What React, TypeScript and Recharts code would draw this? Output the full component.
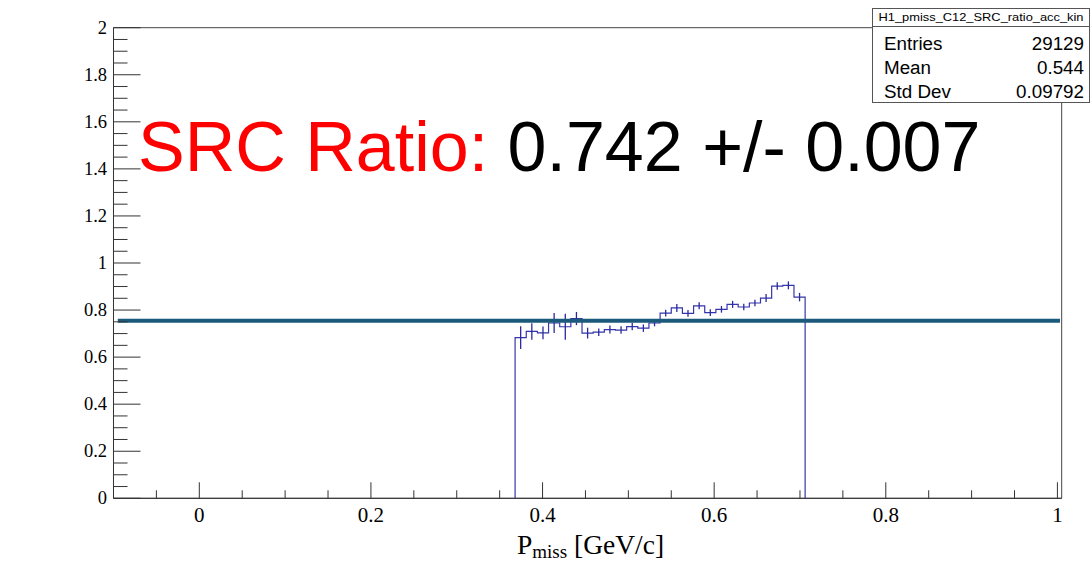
import React from "react";
import {
  ComposedChart,
  Line,
  Scatter,
  ErrorBar,
  XAxis,
  YAxis,
  ReferenceArea,
} from "recharts";

// histogram bins (low edges), last entry is the upper edge of the last bin
const binEdges = [
  0.368, 0.381, 0.394, 0.407, 0.42, 0.433, 0.446, 0.459, 0.472, 0.485, 0.498,
  0.511, 0.524, 0.537, 0.55, 0.563, 0.576, 0.589, 0.602, 0.615, 0.628, 0.641,
  0.654, 0.667, 0.68, 0.693, 0.706,
];
const binValues = [
  0.683, 0.709, 0.703, 0.745, 0.729, 0.764, 0.702, 0.706, 0.717, 0.715, 0.73,
  0.723, 0.745, 0.787, 0.809, 0.786, 0.818, 0.789, 0.803, 0.824, 0.813, 0.83,
  0.851, 0.902, 0.905, 0.855,
];
const binErrors = [
  0.048, 0.035, 0.027, 0.043, 0.055, 0.028, 0.023, 0.016, 0.017, 0.016, 0.016,
  0.016, 0.014, 0.014, 0.017, 0.014, 0.015, 0.014, 0.014, 0.015, 0.014, 0.014,
  0.017, 0.016, 0.017, 0.018,
];

const fitValue = 0.755;
const fitRange = [-0.095, 1.003];

const xMajor = [0, 0.2, 0.4, 0.6, 0.8, 1];
const yMajor = [0, 0.2, 0.4, 0.6, 0.8, 1, 1.2, 1.4, 1.6, 1.8, 2];

const statsTitle = "H1_pmiss_C12_SRC_ratio_acc_kin";
const statsRows = [
  ["Entries", "29129"],
  ["Mean", "0.544"],
  ["Std Dev", "0.09792"],
];

// minor ticks every 0.05
const xTicks: number[] = [];
for (let i = -1; i <= 20; i++) xTicks.push(+(i * 0.05).toFixed(2));
const yTicks: number[] = [];
for (let i = 0; i <= 40; i++) yTicks.push(+(i * 0.05).toFixed(2));

const isMajor = (v: number, list: number[]) =>
  list.some((m) => Math.abs(m - v) < 1e-6);

// step line data for the histogram outline
const stepData = [
  { x: binEdges[0], y: 0 },
  ...binValues.map((v, i) => ({ x: binEdges[i], y: v })),
  { x: binEdges[binEdges.length - 1], y: binValues[binValues.length - 1] },
  { x: binEdges[binEdges.length - 1], y: 0 },
];

const errData = binValues.map((v, i) => ({
  x: (binEdges[i] + binEdges[i + 1]) / 2,
  y: v,
  err: binErrors[i],
}));

const fitData = fitRange.map((x) => ({ x, y: fitValue }));

const serif = "'Liberation Serif', 'DejaVu Serif', serif";
const sans = "'Liberation Sans', Arial, sans-serif";

const YTick = (props: any) => {
  const { x, y, payload } = props;
  const major = isMajor(payload.value, yMajor);
  return (
    <g>
      <line
        x1={x}
        x2={x + (major ? 27 : 14)}
        y1={y}
        y2={y}
        stroke="#333"
        strokeWidth={1}
      />
      {major && (
        <text
          x={x - 6.5}
          y={y + 6}
          textAnchor="end"
          fontFamily={serif}
          fontSize={18.5}
          fill="#000"
        >
          {String(payload.value)}
        </text>
      )}
    </g>
  );
};

const XTick = (props: any) => {
  const { x, y, payload } = props;
  const major = isMajor(payload.value, xMajor);
  return (
    <g>
      <line
        x1={x}
        x2={x}
        y1={y}
        y2={y - (major ? 16 : 8)}
        stroke="#333"
        strokeWidth={1}
      />
      {major && (
        <text
          x={x}
          y={y + 23.4}
          textAnchor="middle"
          fontFamily={serif}
          fontSize={21}
          fill="#000"
        >
          {String(payload.value)}
        </text>
      )}
    </g>
  );
};

export default function App() {
  return (
    <div
      style={{
        position: "absolute",
        left: 0,
        top: 0,
        width: 1091,
        height: 562,
        background: "#fff",
        overflow: "hidden",
      }}
    >
      <ComposedChart
        width={1091}
        height={562}
        margin={{ top: 27.7, right: 29.3, bottom: 23.7, left: 53.5 }}
      >
        <XAxis
          dataKey="x"
          type="number"
          domain={[-0.1, 1.005]}
          allowDataOverflow
          ticks={xTicks}
          interval={0}
          tickSize={0}
          tickMargin={0}
          tickLine={false}
          axisLine={{ stroke: "#333" }}
          tick={<XTick />}
          height={40}
        />
        <YAxis
          type="number"
          domain={[0, 2]}
          allowDataOverflow
          ticks={yTicks}
          interval={0}
          tickSize={0}
          tickMargin={0}
          tickLine={false}
          axisLine={{ stroke: "#333" }}
          tick={<YTick />}
          width={60}
        />
        <ReferenceArea
          x1={-0.1}
          x2={1.005}
          y1={0}
          y2={2}
          fill="none"
          stroke="#444"
          strokeWidth={1}
          ifOverflow="visible"
        />
        <Line
          data={stepData}
          dataKey="y"
          type="stepAfter"
          stroke="#3535ad"
          strokeWidth={1.2}
          dot={false}
          isAnimationActive={false}
        />
        <Scatter
          data={errData}
          dataKey="y"
          shape={() => <g />}
          isAnimationActive={false}
        >
          <ErrorBar
            dataKey="err"
            direction="y"
            width={0}
            stroke="#2a2a9c"
            strokeWidth={1.3}
            isAnimationActive={false}
          />
        </Scatter>
        <Line
          data={fitData}
          dataKey="y"
          type="linear"
          stroke="#1b5a7a"
          strokeWidth={4}
          dot={false}
          isAnimationActive={false}
        />
      </ComposedChart>

      <svg
        width={1091}
        height={562}
        style={{ position: "absolute", left: 0, top: 0, pointerEvents: "none" }}
      >
        <text x={138} y={171} fontFamily={sans} fontSize={70}>
          <tspan fill="#ff0000">SRC Ratio: </tspan>
          <tspan fill="#000">0.742 +/- 0.007</tspan>
        </text>

        <text x={517} y={554} fontFamily={serif} fontSize={27.5} fill="#000">
          <tspan>P</tspan>
          <tspan fontSize={19} dy={4}>
            miss
          </tspan>
          <tspan dy={-4}> [GeV/c]</tspan>
        </text>

        <rect
          x={872.5}
          y={8.5}
          width={217}
          height={94}
          fill="#fff"
          stroke="#555"
        />
        <line x1={872.5} x2={1089.5} y1={26.5} y2={26.5} stroke="#555" />
        <text
          x={981}
          y={21}
          textAnchor="middle"
          fontFamily={sans}
          fontSize={10.5}
          textLength={205}
          lengthAdjust="spacingAndGlyphs"
          fill="#000"
        >
          {statsTitle}
        </text>
        {statsRows.map(([k, v], i) => (
          <g key={k}>
            <text x={884} y={50 + i * 24} fontFamily={sans} fontSize={18.8}>
              {k}
            </text>
            <text
              x={1084}
              y={50 + i * 24}
              textAnchor="end"
              fontFamily={sans}
              fontSize={18.8}
            >
              {v}
            </text>
          </g>
        ))}
      </svg>
    </div>
  );
}
